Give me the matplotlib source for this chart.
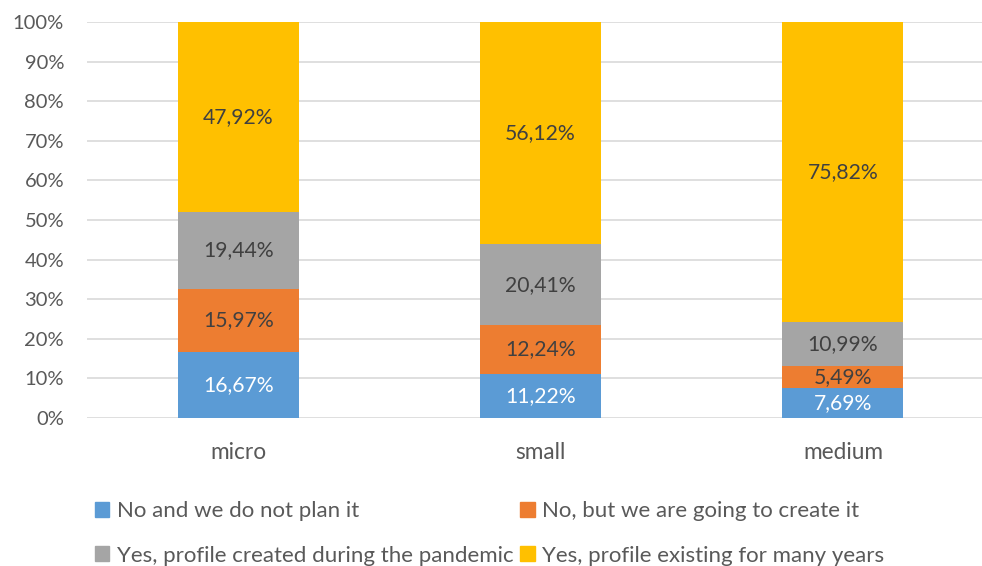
import matplotlib.pyplot as plt
from matplotlib.patches import Patch
import numpy as np

plt.rcParams['font.family'] = ['Lato', 'DejaVu Sans']

categories = ['micro', 'small', 'medium']
series_names = ['No and we do not plan it',
                'No, but we are going to create it',
                'Yes, profile created during the pandemic',
                'Yes, profile existing for many years']
no_plan = [16.67, 11.22, 7.69]
no_going = [15.97, 12.24, 5.49]
yes_pandemic = [19.44, 20.41, 10.99]
yes_years = [47.92, 56.12, 75.82]
colors = ['#5b9bd5', '#ed7d31', '#a5a5a5', '#ffc000']
label_colors = ['white', '#404040', '#404040', '#404040']

series = [no_plan, no_going, yes_pandemic, yes_years]
x = np.arange(len(categories))

fig = plt.figure(figsize=(9.82, 5.66), dpi=100)
ax = fig.add_axes([0.0886, 0.2615, 0.9114, 0.6996])

# stacked bars, each segment labelled with its share
bottom = np.zeros(len(categories))
for vals, c, lc in zip(series, colors, label_colors):
    vals = np.array(vals)
    ax.bar(x, vals, 0.4, bottom=bottom, color=c, zorder=2)
    for xi, b, v in zip(x, bottom, vals):
        ax.text(xi, b + v / 2, f"{v:.2f}%".replace('.', ','), ha='center', va='center',
                color=lc, fontsize=15.2, zorder=3)
    bottom += vals

ax.set_xlim(-0.5, 2.46)
ax.set_ylim(0, 100)
ax.set_yticks(range(0, 101, 10))
ax.set_yticklabels([f"{t}%" for t in range(0, 101, 10)])
ax.set_xticks(x)
ax.set_xticklabels(categories)
ax.grid(axis='y', color='#d9d9d9', linewidth=1.2, zorder=0)
for s in ax.spines.values():
    s.set_visible(False)
ax.tick_params(length=0, labelsize=14.5, colors='#595959')
ax.tick_params(axis='x', pad=17, labelsize=16.3)
ax.tick_params(axis='y', pad=16.5)

# legend: two rows of two entries
handles = [Patch(color=c) for c in colors]
order = [0, 2, 1, 3]
fig.legend([handles[i] for i in order], [series_names[i] for i in order],
           ncol=2, loc='upper left', bbox_to_anchor=(0.085, 0.134),
           frameon=False, fontsize=16, labelcolor='#595959',
           handlelength=0.65, handleheight=0.65, handletextpad=0.35,
           columnspacing=0.3, labelspacing=1.1, borderpad=0)

fig.savefig('out.png', dpi=100)
